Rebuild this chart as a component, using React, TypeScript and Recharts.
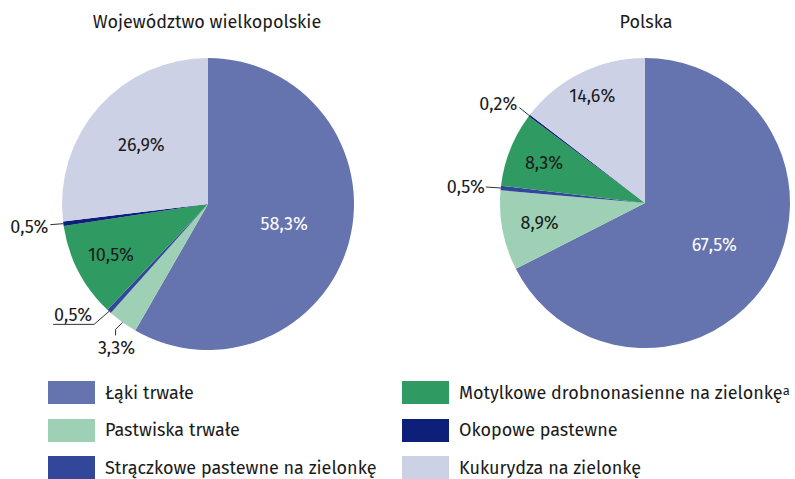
import { PieChart, Pie, Cell } from 'recharts';

const categories = [
  'Łąki trwałe',
  'Pastwiska trwałe',
  'Strączkowe pastewne na zielonkę',
  'Motylkowe drobnonasienne na zielonkę',
  'Okopowe pastewne',
  'Kukurydza na zielonkę',
];

const wielkopolskieValues = [58.3, 3.3, 0.5, 10.5, 0.5, 26.9];
const polskaValues = [67.5, 8.9, 0.5, 8.3, 0.2, 14.6];

const colors = ['#6574ae', '#9dd0b4', '#33479a', '#2f9b63', '#0d1f78', '#cdd1e5'];

// legend order: two columns
const legendLeft = [0, 1, 2];
const legendRight = [3, 4, 5];

const RAD = Math.PI / 180;
const FONT = '"Fira Sans", "Noto Sans", sans-serif';

type LabelCfg =
  | { kind: 'in'; r: number; fill?: string }
  | { kind: 'out'; path: [number, number][]; tx: number; ty: number; anchor: 'start' | 'middle' | 'end' };

// label placement per slice (inside: radius share, outside: offsets from slice edge)
const leftLabels: LabelCfg[] = [
  { kind: 'in', r: 0.54, fill: '#fff' },
  { kind: 'out', path: [[-7, 7], [-7, 13]], tx: -6, ty: 26, anchor: 'middle' },
  { kind: 'out', path: [[-15, 13], [-56, 13]], tx: -36, ty: 4, anchor: 'middle' },
  { kind: 'in', r: 0.75 },
  { kind: 'out', path: [[-13, 1]], tx: -15, ty: 3, anchor: 'end' },
  { kind: 'in', r: 0.61 },
];

const rightLabels: LabelCfg[] = [
  { kind: 'in', r: 0.56, fill: '#fff' },
  { kind: 'in', r: 0.74 },
  { kind: 'out', path: [[-15, -1]], tx: -16, ty: -1, anchor: 'end' },
  { kind: 'in', r: 0.75 },
  { kind: 'out', path: [[-10, -8]], tx: -12, ty: -12, anchor: 'end' },
  { kind: 'in', r: 0.82 },
];

const fmt = (v: number) => `${v.toFixed(1).replace('.', ',')}%`;

function makeLabel(cfgs: LabelCfg[]) {
  return (props: any) => {
    const { cx, cy, midAngle, outerRadius, index, value } = props;
    const cfg = cfgs[index];
    const cos = Math.cos(-midAngle * RAD);
    const sin = Math.sin(-midAngle * RAD);
    if (cfg.kind === 'in') {
      const x = cx + outerRadius * cfg.r * cos;
      const y = cy + outerRadius * cfg.r * sin;
      return (
        <text x={x} y={y} fill={cfg.fill ?? '#1a1a1a'} fontSize={18} fontFamily={FONT}
          textAnchor="middle" dominantBaseline="central">
          {fmt(value)}
        </text>
      );
    }
    const ex = cx + outerRadius * cos;
    const ey = cy + outerRadius * sin;
    const pts = [[ex, ey], ...cfg.path.map(([dx, dy]) => [ex + dx, ey + dy])];
    return (
      <g>
        <polyline points={pts.map((p) => p.join(',')).join(' ')} fill="none" stroke="#333" strokeWidth={1} />
        <text x={ex + cfg.tx} y={ey + cfg.ty} fill="#1a1a1a" fontSize={18} fontFamily={FONT}
          textAnchor={cfg.anchor} dominantBaseline="central">
          {fmt(value)}
        </text>
      </g>
    );
  };
}

const toData = (vals: number[]) => categories.map((name, i) => ({ name, value: vals[i] }));

function LegendBlock() {
  const item = (i: number) => (
    <div key={i} style={{ display: 'flex', alignItems: 'center', height: 37.5 }}>
      <span style={{ width: 47, height: 23, background: colors[i], display: 'inline-block', marginRight: 10 }} />
      <span style={{ fontSize: 18, color: '#1a1a1a', whiteSpace: 'nowrap' }}>
        {i === 3 ? (
          <>
            {categories[i]}
            <sup style={{ fontSize: 13, verticalAlign: 4 }}>a</sup>
          </>
        ) : (
          categories[i]
        )}
      </span>
    </div>
  );
  return (
    <div style={{ position: 'absolute', left: 0, top: 374, width: 795, height: 105, fontFamily: FONT }}>
      <div style={{ position: 'absolute', left: 48, top: 0 }}>{legendLeft.map(item)}</div>
      <div style={{ position: 'absolute', left: 402, top: 0 }}>{legendRight.map(item)}</div>
    </div>
  );
}

export default function App() {
  return (
    <div style={{ position: 'absolute', left: 0, top: 0, width: 795, height: 479, background: '#fff', fontFamily: FONT, overflow: 'hidden' }}>
      <div style={{ position: 'absolute', left: 207, top: 11, transform: 'translateX(-50%)', fontSize: 18, color: '#1a1a1a', whiteSpace: 'nowrap' }}>
        Województwo wielkopolskie
      </div>
      <div style={{ position: 'absolute', left: 646, top: 11, transform: 'translateX(-50%)', fontSize: 18, color: '#1a1a1a' }}>
        Polska
      </div>
      <PieChart width={795} height={479} margin={{ top: 0, right: 0, bottom: 0, left: 0 }}>
        <Pie
          data={toData(wielkopolskieValues)}
          dataKey="value"
          cx={208}
          cy={204}
          outerRadius={146}
          startAngle={90}
          endAngle={-270}
          stroke="none"
          label={makeLabel(leftLabels)}
          labelLine={false}
          isAnimationActive={false}
        >
          {categories.map((c, i) => (
            <Cell key={c} fill={colors[i]} />
          ))}
        </Pie>
        <Pie
          data={toData(polskaValues)}
          dataKey="value"
          cx={645}
          cy={203}
          outerRadius={145}
          startAngle={90}
          endAngle={-270}
          stroke="none"
          label={makeLabel(rightLabels)}
          labelLine={false}
          isAnimationActive={false}
        >
          {categories.map((c, i) => (
            <Cell key={c} fill={colors[i]} />
          ))}
        </Pie>
      </PieChart>
      <LegendBlock />
    </div>
  );
}
